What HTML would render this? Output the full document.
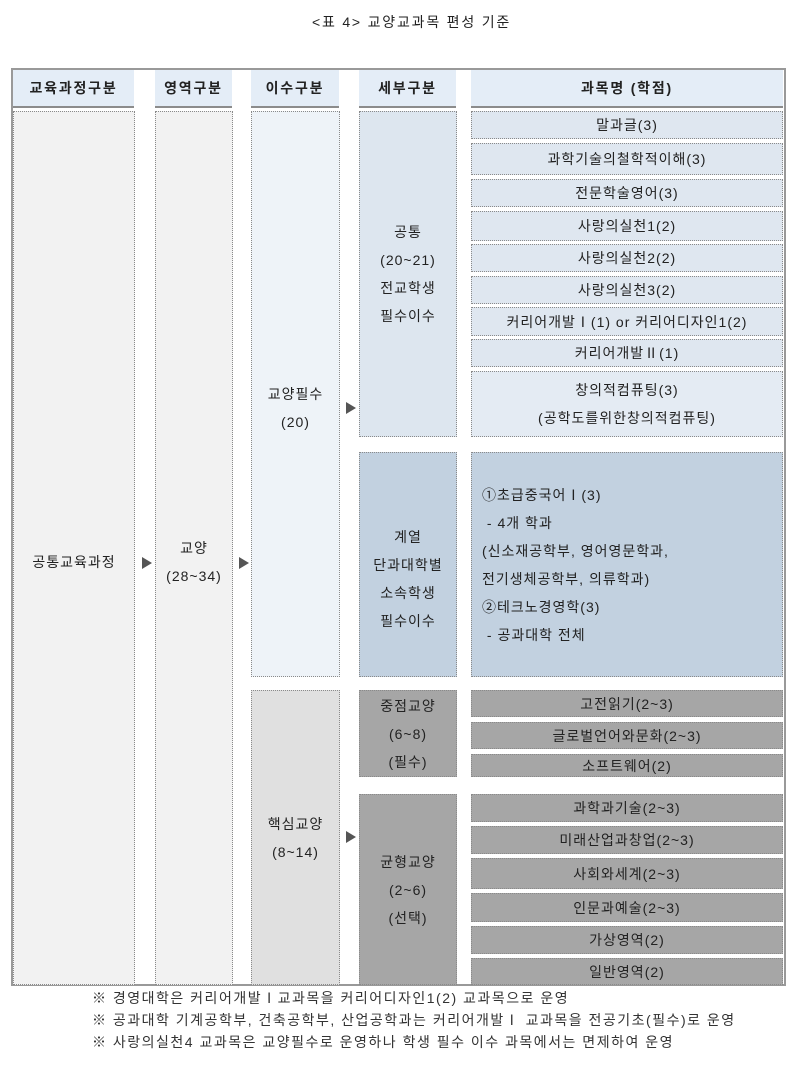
<!DOCTYPE html>
<html><head><meta charset="utf-8"><style>
body{margin:0;width:797px;height:1068px;background:#fff;font-family:"Liberation Sans","Noto Sans CJK KR","NanumGothic",sans-serif;color:#222;position:relative;overflow:hidden}
.b{position:absolute;box-sizing:border-box;display:flex;align-items:center;justify-content:center;text-align:center;font-size:14px;line-height:28px;letter-spacing:1px;border:1px dotted #8a8a8a}
.h{position:absolute;top:70px;height:38px;background:#e4edf7;border-bottom:2px solid #8c8c8c;box-sizing:border-box;display:flex;align-items:center;justify-content:center;font-weight:bold;font-size:14px;letter-spacing:1.8px}
.t{position:absolute;width:0;height:0;border-top:6px solid transparent;border-bottom:6px solid transparent;border-left:10px solid #555}
.lt{background:#dfe7f0}.g{background:#a6a6a6}
.fn{position:absolute;left:92px;font-size:14px;letter-spacing:1.5px;color:#333}
</style></head><body>
<div style="position:absolute;top:12px;left:312px;font-size:14px;letter-spacing:1.8px;white-space:nowrap">&lt;표 4&gt; 교양교과목 편성 기준</div>
<div style="position:absolute;left:11px;top:68px;width:775px;height:918px;border:2px solid #999;box-sizing:border-box"></div>
<div class="h" style="left:13px;width:121px">교육과정구분</div>
<div class="h" style="left:155px;width:77px">영역구분</div>
<div class="h" style="left:251px;width:88px">이수구분</div>
<div class="h" style="left:359px;width:97px">세부구분</div>
<div class="h" style="left:471px;width:312px">과목명 (학점)</div>

<div class="b" style="left:13px;top:111px;width:122px;height:874px;background:#f2f2f2;padding-top:28px">공통교육과정</div>
<div class="b" style="left:155px;top:111px;width:78px;height:874px;background:#f2f2f2;padding-top:28px">교양<br>(28~34)</div>
<div class="b" style="left:251px;top:111px;width:89px;height:566px;background:#eef3f8;padding-top:28px">교양필수<br>(20)</div>
<div class="b" style="left:251px;top:690px;width:89px;height:295px;background:#e0e0e0">핵심교양<br>(8~14)</div>
<div class="b" style="left:359px;top:111px;width:98px;height:326px;background:#dde6ef;line-height:28px">공통<br>(20~21)<br>전교학생<br>필수이수</div>
<div class="b" style="left:359px;top:452px;width:98px;height:225px;background:#c2d1e0;line-height:28px;padding-top:28px">계열<br>단과대학별<br>소속학생<br>필수이수</div>
<div class="b g" style="left:359px;top:690px;width:98px;height:87px">중점교양<br>(6~8)<br>(필수)</div>
<div class="b g" style="left:359px;top:794px;width:98px;height:191px">균형교양<br>(2~6)<br>(선택)</div>

<div class="b lt" style="left:471px;top:111px;width:312px;height:28px">말과글(3)</div>
<div class="b lt" style="left:471px;top:143px;width:312px;height:32px">과학기술의철학적이해(3)</div>
<div class="b lt" style="left:471px;top:179px;width:312px;height:28px">전문학술영어(3)</div>
<div class="b lt" style="left:471px;top:211px;width:312px;height:30px">사랑의실천1(2)</div>
<div class="b lt" style="left:471px;top:244px;width:312px;height:28px">사랑의실천2(2)</div>
<div class="b lt" style="left:471px;top:276px;width:312px;height:28px">사랑의실천3(2)</div>
<div class="b lt" style="left:471px;top:307px;width:312px;height:29px">커리어개발Ⅰ(1) or 커리어디자인1(2)</div>
<div class="b lt" style="left:471px;top:339px;width:312px;height:28px">커리어개발Ⅱ(1)</div>
<div class="b lt" style="left:471px;top:371px;width:312px;height:66px;background:#e4ebf3">창의적컴퓨팅(3)<br>(공학도를위한창의적컴퓨팅)</div>
<div class="b" style="left:471px;top:452px;width:312px;height:225px;background:#c2d1e0;justify-content:flex-start;text-align:left;padding-left:10px">①초급중국어Ⅰ(3)<br>&nbsp;- 4개 학과<br>(신소재공학부, 영어영문학과,<br>전기생체공학부, 의류학과)<br>②테크노경영학(3)<br>&nbsp;- 공과대학 전체</div>
<div class="b g" style="left:471px;top:690px;width:312px;height:27px">고전읽기(2~3)</div>
<div class="b g" style="left:471px;top:722px;width:312px;height:27px">글로벌언어와문화(2~3)</div>
<div class="b g" style="left:471px;top:754px;width:312px;height:23px">소프트웨어(2)</div>
<div class="b g" style="left:471px;top:794px;width:312px;height:28px">과학과기술(2~3)</div>
<div class="b g" style="left:471px;top:826px;width:312px;height:28px">미래산업과창업(2~3)</div>
<div class="b g" style="left:471px;top:858px;width:312px;height:31px">사회와세계(2~3)</div>
<div class="b g" style="left:471px;top:893px;width:312px;height:29px">인문과예술(2~3)</div>
<div class="b g" style="left:471px;top:926px;width:312px;height:28px">가상영역(2)</div>
<div class="b g" style="left:471px;top:958px;width:312px;height:27px">일반영역(2)</div>

<div class="t" style="left:142px;top:557px"></div>
<div class="t" style="left:239px;top:557px"></div>
<div class="t" style="left:346px;top:402px"></div>
<div class="t" style="left:346px;top:831px"></div>

<div class="fn" style="top:988px">※ 경영대학은 커리어개발Ⅰ교과목을 커리어디자인1(2) 교과목으로 운영</div>
<div class="fn" style="top:1010px">※ 공과대학 기계공학부, 건축공학부, 산업공학과는 커리어개발Ⅰ 교과목을 전공기초(필수)로 운영</div>
<div class="fn" style="top:1032px">※ 사랑의실천4 교과목은 교양필수로 운영하나 학생 필수 이수 과목에서는 면제하여 운영</div>
</body></html>
